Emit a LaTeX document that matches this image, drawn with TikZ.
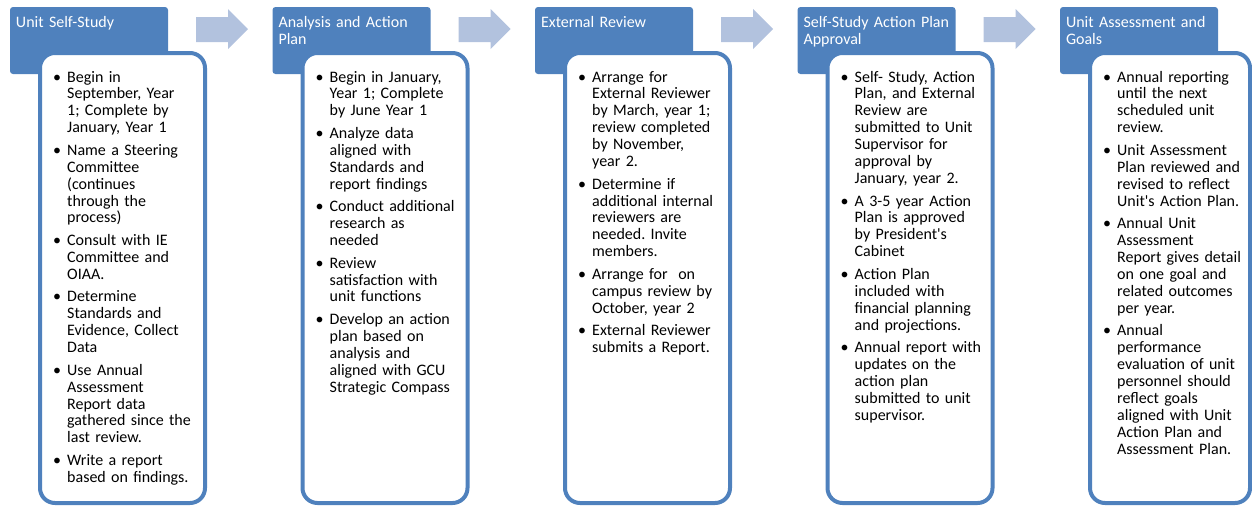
\documentclass[tikz,border=0pt]{standalone}
\usepackage{fontspec}
\newfontfamily\bodyfont{Carlito}
\usetikzlibrary{calc}
\definecolor{hblue}{RGB}{79,129,189}
\definecolor{arrowblue}{RGB}{178,194,222}
% bullet hanging to the left of the item text
\newcommand\bul{\leavevmode\llap{\textbullet\hspace{6pt}}}
\frenchspacing

\begin{document}
\begin{tikzpicture}[x=1pt,y=-1pt,
  header/.style={anchor=north west, fill=hblue, rounded corners=3pt, outer sep=0pt,
    inner xsep=6pt, inner ysep=0pt, text width=146pt, text height=20pt, text depth=47pt,
    align=left, text=white, font=\bodyfont\fontsize{16pt}{17pt}\selectfont},
  frame/.style={anchor=north west, draw=hblue, line width=4pt, fill=white,
    rounded corners=15pt, outer sep=0pt, inner sep=0pt, minimum height=450pt},
  body/.style={anchor=base west, inner sep=0pt, text width=140pt, align=left,
    font=\bodyfont\fontsize{16pt}{16.9pt}\selectfont},
  flow/.style={fill=arrowblue}]

\useasboundingbox (0,0) rectangle (1252,507);

% stage headers
\node[header] (h1) at (10,7)    {Unit Self-Study};
\node[header] (h2) at (272.5,7) {Analysis and Action\\Plan};
\node[header] (h3) at (535,7)   {External Review};
\node[header] (h4) at (797.5,7) {Self-Study Action Plan\\Approval};
\node[header] (h5) at (1060,7)  {Unit Assessment and\\Goals};

% block arrows between the stages
\foreach \a in {1,...,4}{
  \fill[flow] ($(h\a.north east)+(28,10)$) -- ++(32,0) -- ++(0,-8) -- ++(20,20)
    -- ++(-20,20) -- ++(0,-7) -- ++(-32,0) -- cycle;
}

% detail frames
\node[frame, minimum width=165pt] (f1) at ($(h1.north west)+(30,46)$) {};
\node[frame, minimum width=165pt] (f2) at ($(h2.north west)+(30,46)$) {};
\node[frame, minimum width=165pt] (f3) at ($(h3.north west)+(30,46)$) {};
\node[frame, minimum width=165pt] (f4) at ($(h4.north west)+(30,46)$) {};
\node[frame, minimum width=160pt] (f5) at ($(h5.north west)+(30,46)$) {};

% detail texts
\node[body] (t1) at ($(f1.north west)+(27,29)$) {%
\bul Begin in\\
September, Year\\
1; Complete by\\
January, Year 1\\[5.7pt]
\bul Name a Steering\\
Committee\\
(continues\\
through the\\
process)\\[5.7pt]
\bul Consult with IE\\
Committee and\\
OIAA.\\[5.7pt]
\bul Determine\\
Standards and\\
Evidence, Collect\\
Data\\[5.7pt]
\bul Use Annual\\
Assessment\\
Report data\\
gathered since the\\
last review.\\[5.7pt]
\bul Write a report\\
based on findings.};

\node[body] (t2) at ($(f2.north west)+(27,29)$) {%
\bul Begin in January,\\
Year 1; Complete\\
by June Year 1\\[5.7pt]
\bul Analyze data\\
aligned with\\
Standards and\\
report findings\\[5.7pt]
\bul Conduct additional\\
research as\\
needed\\[5.7pt]
\bul Review\\
satisfaction with\\
unit functions\\[5.7pt]
\bul Develop an action\\
plan based on\\
analysis and\\
aligned with GCU\\
Strategic Compass};

\node[body] (t3) at ($(f3.north west)+(27,29)$) {%
\bul Arrange for\\
External Reviewer\\
by March, year 1;\\
review completed\\
by November,\\
year 2.\\[5.7pt]
\bul Determine if\\
additional internal\\
reviewers are\\
needed. Invite\\
members.\\[5.7pt]
\bul Arrange for~ on\\
campus review by\\
October, year 2\\[5.7pt]
\bul External Reviewer\\
submits a Report.};

\node[body] (t4) at ($(f4.north west)+(27,29)$) {%
\bul Self- Study, Action\\
Plan, and External\\
Review are\\
submitted to Unit\\
Supervisor for\\
approval by\\
January, year 2.\\[5.7pt]
\bul A 3-5 year Action\\
Plan is approved\\
by President's\\
Cabinet\\[5.7pt]
\bul Action Plan\\
included with\\
financial planning\\
and projections.\\[5.7pt]
\bul Annual report with\\
updates on the\\
action plan\\
submitted to unit\\
supervisor.};

\node[body] (t5) at ($(f5.north west)+(27,29)$) {%
\bul Annual reporting\\
until the next\\
scheduled unit\\
review.\\[5.7pt]
\bul Unit Assessment\\
Plan reviewed and\\
revised to reflect\\
Unit's Action Plan.\\[5.7pt]
\bul Annual Unit\\
Assessment\\
Report gives detail\\
on one goal and\\
related outcomes\\
per year.\\[5.7pt]
\bul Annual\\
performance\\
evaluation of unit\\
personnel should\\
reflect goals\\
aligned with Unit\\
Action Plan and\\
Assessment Plan.};

\end{tikzpicture}
\end{document}
